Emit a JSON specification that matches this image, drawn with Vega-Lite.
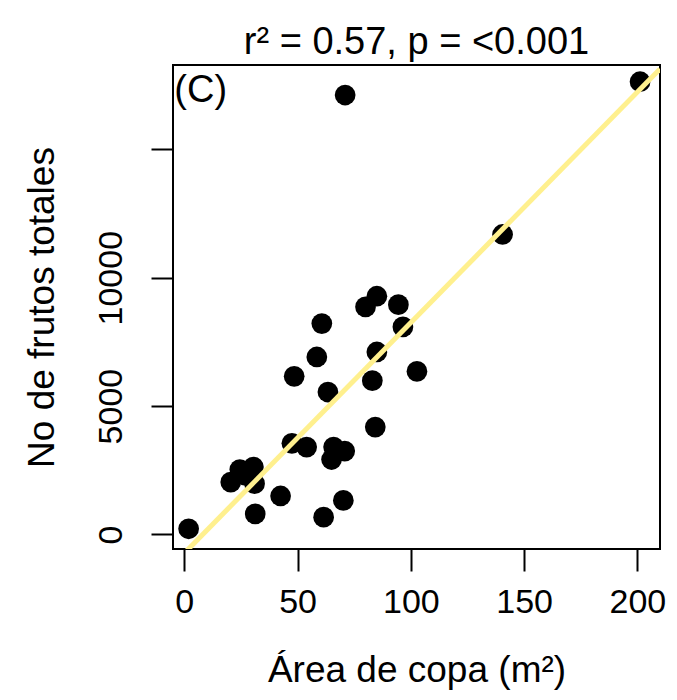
{
  "$schema": "https://vega.github.io/schema/vega-lite/v6.json",
  "width": 487,
  "height": 484,
  "autosize": {"type": "none"},
  "padding": {"left": 173, "top": 65, "right": 17, "bottom": 151},
  "background": "white",
  "title": {
    "text": "r² = 0.57, p = <0.001",
    "font": "Liberation Sans",
    "fontSize": 38,
    "fontWeight": "normal",
    "color": "black",
    "baseline": "alphabetic",
    "offset": -27,
    "anchor": "middle"
  },
  "config": {
    "view": {"stroke": "black", "strokeWidth": 2},
    "axis": {
      "domain": false,
      "grid": false,
      "tickColor": "black",
      "tickWidth": 2,
      "tickSize": 22,
      "labelFont": "Liberation Sans",
      "labelFontSize": 34,
      "labelColor": "black",
      "titleFont": "Liberation Sans",
      "titleFontSize": 37,
      "titleFontWeight": "normal",
      "titleColor": "black"
    }
  },
  "layer": [
    {
      "data": {
        "values": [
          {"area": 1.9, "frutos": 222},
          {"area": 60.7, "frutos": 8214},
          {"area": 58.5, "frutos": 6913},
          {"area": 48.5, "frutos": 6160},
          {"area": 63.4, "frutos": 5549},
          {"area": 80.0, "frutos": 8862},
          {"area": 85.0, "frutos": 9280},
          {"area": 94.5, "frutos": 8950},
          {"area": 96.5, "frutos": 8083},
          {"area": 85.0, "frutos": 7108},
          {"area": 83.0, "frutos": 5990},
          {"area": 102.7, "frutos": 6350},
          {"area": 84.3, "frutos": 4184},
          {"area": 47.5, "frutos": 3550},
          {"area": 54.0, "frutos": 3405},
          {"area": 65.9, "frutos": 3405},
          {"area": 70.8, "frutos": 3250},
          {"area": 65.0, "frutos": 2920},
          {"area": 24.5, "frutos": 2530},
          {"area": 27.0, "frutos": 2300},
          {"area": 30.5, "frutos": 2624},
          {"area": 20.5, "frutos": 2040},
          {"area": 31.0, "frutos": 1980},
          {"area": 42.5, "frutos": 1500},
          {"area": 31.3, "frutos": 800},
          {"area": 61.5, "frutos": 675},
          {"area": 70.2, "frutos": 1326},
          {"area": 71.0, "frutos": 17115},
          {"area": 201.2, "frutos": 17634},
          {"area": 140.5, "frutos": 11684}
        ]
      },
      "mark": {"type": "circle", "size": 430, "color": "black", "opacity": 1},
      "encoding": {
        "x": {
          "field": "area",
          "type": "quantitative",
          "scale": {"domain": [-5, 210], "nice": false, "zero": false},
          "axis": {
            "title": "Área de copa (m²)",
            "values": [0, 50, 100, 150, 200],
            "labelPadding": 14,
            "titlePadding": 33
          }
        },
        "y": {
          "field": "frutos",
          "type": "quantitative",
          "scale": {"domain": [-565, 18285], "nice": false, "zero": false},
          "axis": {
            "title": "No de frutos totales",
            "values": [0, 5000, 10000, 15000],
            "labelExpr": "datum.value == 15000 ? '' : datum.label",
            "format": "d",
            "labelAngle": -90,
            "labelAlign": "center",
            "labelBaseline": "bottom",
            "labelPadding": 23,
            "titlePadding": 33
          }
        }
      }
    },
    {
      "data": {"values": [{"area": -5, "frutos": -1177}, {"area": 210, "frutos": 18130}]},
      "mark": {"type": "line", "color": "#FFF08E", "strokeWidth": 5, "clip": true},
      "encoding": {
        "x": {"field": "area", "type": "quantitative"},
        "y": {"field": "frutos", "type": "quantitative"}
      }
    },
    {
      "data": {"values": [{"label": "(C)", "area": -4.4, "frutos": 16842}]},
      "mark": {"type": "text", "font": "Liberation Sans", "fontSize": 38, "align": "left", "baseline": "alphabetic", "color": "black"},
      "encoding": {
        "x": {"field": "area", "type": "quantitative"},
        "y": {"field": "frutos", "type": "quantitative"},
        "text": {"field": "label"}
      }
    }
  ]
}
